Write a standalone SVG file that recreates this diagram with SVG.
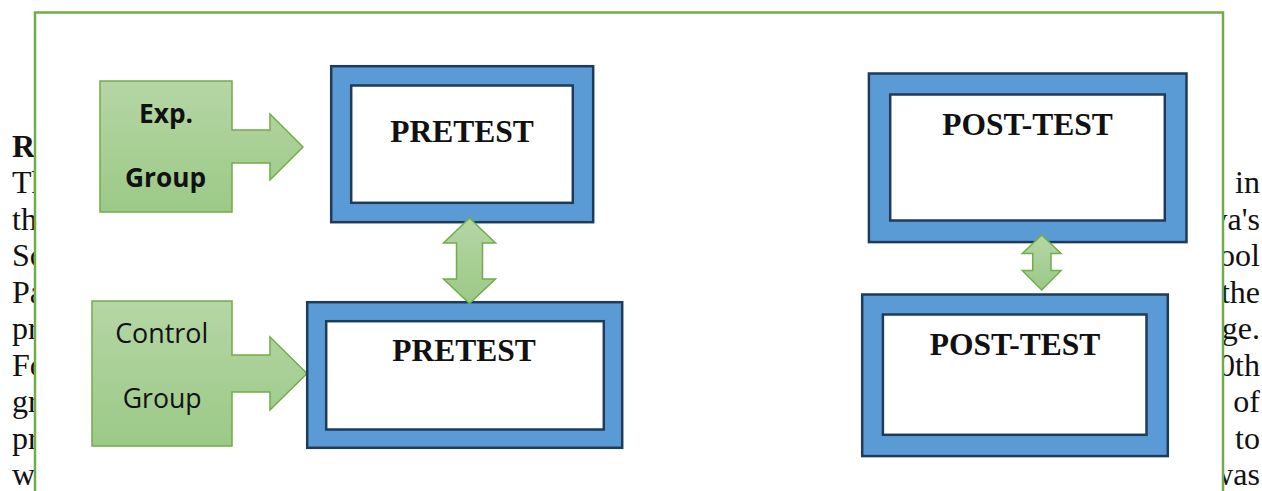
<svg xmlns="http://www.w3.org/2000/svg" width="1262" height="491" viewBox="0 0 1262 491">
  <defs>
    <linearGradient id="greenFill" x1="0" y1="0" x2="0" y2="1">
      <stop offset="0" stop-color="#B5D6A5"/>
      <stop offset="1" stop-color="#9CC987"/>
    </linearGradient>
    <style>
      .doc { font-family: "Liberation Serif", "Times New Roman", serif; font-size: 32px; fill: #111; }
      .doc-r { font-family: "Liberation Serif", "Times New Roman", serif; font-size: 32px; fill: #111; text-anchor: end; }
      .panel { fill: #FFFFFF; stroke: #70AD47; stroke-width: 2.5; }
      .callout { fill: url(#greenFill); stroke: #70AD47; stroke-width: 1.5; }
      .frame { fill: #5B9BD5; stroke: #1F3B5C; stroke-width: 2.5; }
      .inner { fill: #FFFFFF; stroke: #1F3B5C; stroke-width: 2.5; }
      .title { font-family: "Liberation Serif", "Times New Roman", serif; font-weight: bold; font-size: 31.5px; fill: #111; text-anchor: middle; }
      .lbl { font-family: "Open Sans", "Noto Sans", "Liberation Sans", sans-serif; font-size: 26.5px; fill: #111; }
      .lbl-b { font-family: "Open Sans", "Noto Sans", "Liberation Sans", sans-serif; font-size: 27.5px; font-weight: bold; fill: #111; }
      .dbl { fill: url(#greenFill); stroke: #70AD47; stroke-width: 1.5; stroke-linejoin: miter; }
    </style>
  </defs>

  <rect x="0" y="0" width="1262" height="491" fill="#FFFFFF"/>

  <!-- page text running behind the figure panel -->
  <g id="page-text">
    <text class="doc" x="12" y="157" font-weight="bold">Re</text>
    <text class="doc" x="12" y="193.3">The</text>
    <text class="doc" x="12" y="229.8">the</text>
    <text class="doc" x="12" y="266.3">Sc</text>
    <text class="doc" x="12" y="302.8">Pa</text>
    <text class="doc" x="12" y="339.3">pr</text>
    <text class="doc" x="12" y="375.8">Fo</text>
    <text class="doc" x="12" y="412.3">gr</text>
    <text class="doc" x="12" y="448.8">pr</text>
    <text class="doc" x="12" y="485.3">w</text>

    <text class="doc-r" x="1260" y="193.3">in</text>
    <text class="doc-r" x="1260" y="229.8">ya's</text>
    <text class="doc-r" x="1260" y="266.3">ool</text>
    <text class="doc-r" x="1260" y="302.8">the</text>
    <text class="doc-r" x="1260" y="339.3">ge.</text>
    <text class="doc-r" x="1260" y="375.8">0th</text>
    <text class="doc-r" x="1260" y="412.3">of</text>
    <text class="doc-r" x="1260" y="448.8">to</text>
    <text class="doc-r" x="1260" y="485.3">was</text>
  </g>

  <!-- figure panel -->
  <rect class="panel" x="35" y="12.5" width="1188" height="490"/>

  <g id="exp-group">
    <path class="callout" d="M100,81 H232 V130 H270 V114 L303,147 L270,180 V163 H232 V212 H100 Z"/>
    <text class="lbl-b" x="166" y="122.7" text-anchor="middle" textLength="54" lengthAdjust="spacingAndGlyphs">Exp.</text>
    <text class="lbl-b" x="165.5" y="186.7" text-anchor="middle" textLength="81" lengthAdjust="spacingAndGlyphs">Group</text>
  </g>

  <g id="control-group">
    <path class="callout" d="M92,301 H232 V355 H270 V337 L307,373.5 L270,410 V392 H232 V446 H92 Z"/>
    <text class="lbl" x="161.7" y="342.7" text-anchor="middle" textLength="93" lengthAdjust="spacingAndGlyphs">Control</text>
    <text class="lbl" x="162.2" y="408.3" text-anchor="middle" textLength="79" lengthAdjust="spacingAndGlyphs">Group</text>
  </g>

  <g id="pretest-exp">
    <rect class="frame" x="331.2" y="66.2" width="262" height="156"/>
    <rect class="inner" x="351.2" y="85.5" width="221.6" height="117.3"/>
    <text class="title" x="462" y="142.3">PRETEST</text>
  </g>

  <g id="pretest-control">
    <rect class="frame" x="307.2" y="302.2" width="315" height="145.6"/>
    <rect class="inner" x="326.2" y="321.2" width="277.6" height="108.3"/>
    <text class="title" x="464" y="360.7">PRETEST</text>
  </g>

  <g id="posttest-exp">
    <rect class="frame" x="868.9" y="73.5" width="317.6" height="168.6"/>
    <rect class="inner" x="890.2" y="94.5" width="274.6" height="126"/>
    <text class="title" x="1027.5" y="135">POST-TEST</text>
  </g>

  <g id="posttest-control">
    <rect class="frame" x="862.2" y="294.5" width="305.6" height="161.6"/>
    <rect class="inner" x="882.9" y="314.5" width="263.6" height="120.3"/>
    <text class="title" x="1015" y="355">POST-TEST</text>
  </g>

  <g id="connectors">
    <path class="dbl" d="M469.5,218 L495.5,243 H482.5 V279 H495.5 L469.5,303.5 L443.5,279 H456.5 V243 H443.5 Z"/>
    <path class="dbl" d="M1041.7,235 L1061,253.5 H1051 V270.5 H1061 L1041.7,290 L1022.3,270.5 H1032.7 V253.5 H1022.3 Z"/>
  </g>
</svg>
